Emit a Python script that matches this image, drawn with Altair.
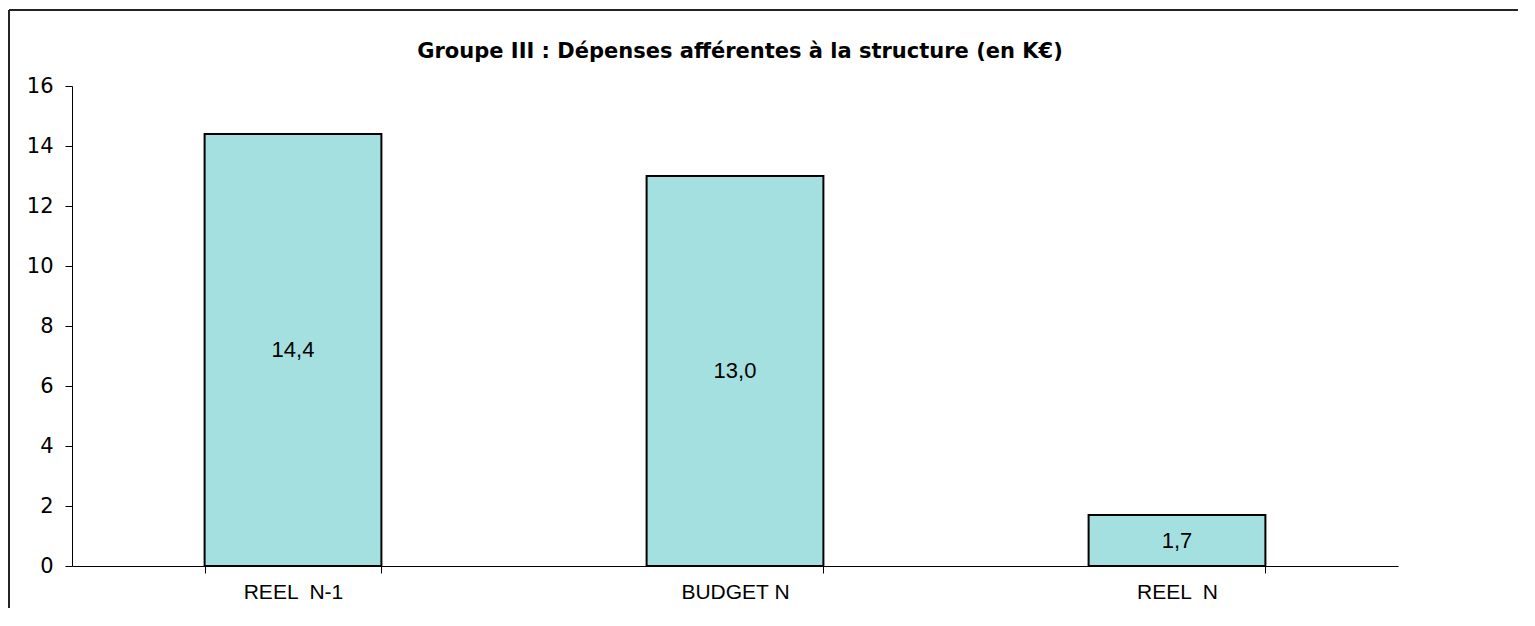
import altair as alt
import pandas as pd

categories = ["REEL \u00a0N-1", "BUDGET N", "REEL \u00a0N"]
values = [14.4, 13.0, 1.7]
value_labels = ["14,4", "13,0", "1,7"]

df = pd.DataFrame({"cat": categories, "val": values, "lab": value_labels})
df["mid"] = df["val"] / 2

W, H = 1326, 480

x = alt.X("cat:N", sort=categories, title=None,
          scale=alt.Scale(paddingInner=0.6, paddingOuter=0.3),
          axis=alt.Axis(labelAngle=0, labelFont="Liberation Sans", labelFontSize=21,
                        labelColor="black", tickBand="extent", tickSize=7, tickColor="black",
                        domainColor="black", labelPadding=8, grid=False))

bars = alt.Chart(df).mark_bar(color="#A4E0E0", stroke="black", strokeWidth=2).encode(
    x=x,
    y=alt.Y("val:Q", title=None,
            scale=alt.Scale(domain=[0, 16], nice=False),
            axis=alt.Axis(values=[0, 2, 4, 6, 8, 10, 12, 14, 16], labelFont="DejaVu Sans",
                          labelFontSize=21, labelColor="black", tickSize=7, tickColor="black",
                          domainColor="black", labelPadding=12, grid=False)),
)

text = alt.Chart(df).mark_text(font="Liberation Sans", fontSize=22, color="black",
                               baseline="middle").encode(
    x=alt.X("cat:N", sort=categories),
    y=alt.Y("mid:Q"),
    text="lab:N",
)

frame_top = alt.Chart(df).mark_rule(color="#222222", strokeWidth=1.5).encode(
    x=alt.value(-63), x2=alt.value(1500), y=alt.value(-76))
frame_left = alt.Chart(df).mark_rule(color="#222222", strokeWidth=1.5).encode(
    x=alt.value(-63), y=alt.value(-76), y2=alt.value(600))

chart = alt.layer(bars, text, frame_top, frame_left).properties(
    width=W, height=H,
    background="white",
    title=alt.TitleParams("Groupe III : Dépenses afférentes à la structure (en K€)",
                          font="DejaVu Sans", fontSize=21, fontWeight="bold", color="black",
                          anchor="middle", baseline="alphabetic", offset=-70, dx=5),
    autosize=alt.AutoSizeParams(type="none"),
    padding={"left": 64, "top": 78, "right": 120, "bottom": 42},
).configure_view(strokeWidth=0, stroke=None)

chart.save("out.html", embed_options={"renderer": "svg", "actions": False})
